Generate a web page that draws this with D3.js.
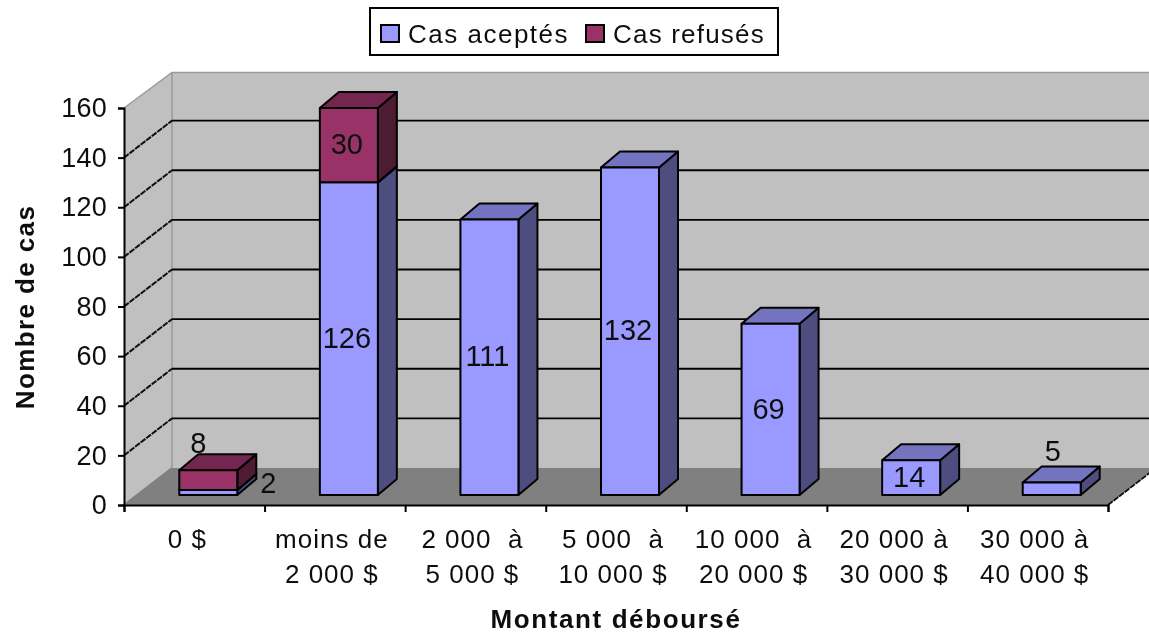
<!DOCTYPE html>
<html>
<head>
<meta charset="utf-8">
<script src="https://cdn.jsdelivr.net/npm/d3@7"></script>
<style>
  html, body { margin: 0; padding: 0; background: #fff; }
  text { font-family: "Liberation Sans", Arial, sans-serif; fill: #111; }
</style>
</head>
<body>
<div id="chart"></div>
<script>
// chart data
var categories = ["0 $", "moins de|2 000 $", "2 000  à|5 000 $", "5 000  à|10 000 $",
                  "10 000  à|20 000 $", "20 000 à|30 000 $", "30 000 à|40 000 $"];
var accepted = [2, 126, 111, 132, 69, 14, 5];
var refused  = [8, 30, 0, 0, 0, 0, 0];
var series_names = ["Cas aceptés", "Cas refusés"];
var y_ticks = [0, 20, 40, 60, 80, 100, 120, 140, 160];

// --------------------------------------------------------

var chart_width  = 1149;
var chart_height = 635;

var svg = d3.select("#chart")
	.append("svg")
	.attr("width", chart_width)
	.attr("height", chart_height)
	.style("display", "block");

// soften everything a little, the reference is an enlarged screenshot
svg.append("filter").attr("id", "soft")
	.append("feGaussianBlur").attr("stdDeviation", 0.7);

var root = svg.append("g").attr("filter", "url(#soft)");

// --------------------------------------------------------
// Scales

const x_scale = d3.scaleBand()
	.domain(d3.range(categories.length))
	.range([124, 1108]);

const y_scale = d3.scaleLinear()
	.domain([0, 160])
	.range([505, 108]);

// 3d offsets: wall is 48 right / 37 up of the axis plane
var wall_dx = 48, wall_dy = -37;
// bars sit part way into the depth
var bar_dx = 14, bar_dy = -10;
var bar_width = 58, depth_dx = 19, depth_dy = -16;

var poly = (pts) => pts.map((p) => p.join(",")).join(" ");

// --------------------------------------------------------
// Walls and floor

var x0 = x_scale.range()[0], x1 = x_scale.range()[1];
var top_y = y_scale(160), zero_y = y_scale(0);
var wall_top = top_y + wall_dy + 1.5;

root.append("polygon")
	.attr("points", poly([[x0, top_y], [x0 + wall_dx, wall_top], [chart_width + 10, wall_top],
		[chart_width + 10, zero_y + wall_dy], [x0 + wall_dx, zero_y + wall_dy], [x0, zero_y]]))
	.attr("fill", "#c0c0c0");

root.append("path")
	.attr("d", `M${x0},${top_y}L${x0 + wall_dx},${wall_top}L${chart_width + 10},${wall_top}`)
	.attr("fill", "none").attr("stroke", "#9a9a9a").attr("stroke-width", 1.5);

root.append("line")
	.attr("x1", x0 + wall_dx).attr("x2", x0 + wall_dx)
	.attr("y1", wall_top).attr("y2", zero_y + wall_dy)
	.attr("stroke", "#9a9a9a").attr("stroke-width", 1.5);

root.append("polygon")
	.attr("points", poly([[x0, zero_y], [x0 + wall_dx, zero_y + wall_dy], [x1 + wall_dx, zero_y + wall_dy], [x1, zero_y]]))
	.attr("fill", "#808080");

// gridlines on the back wall and the side wall
var grid = root.append("g");
y_ticks.filter((d) => d > 0 && d < 160).forEach((d) => {
	grid.append("line")
		.attr("x1", x0 + wall_dx).attr("x2", chart_width + 10)
		.attr("y1", y_scale(d) + wall_dy).attr("y2", y_scale(d) + wall_dy)
		.attr("stroke", "#000").attr("stroke-width", 1.8);
});
y_ticks.filter((d) => d < 160).forEach((d) => {
	grid.append("line")
		.attr("x1", x0).attr("x2", x0 + wall_dx)
		.attr("y1", y_scale(d)).attr("y2", y_scale(d) + wall_dy)
		.attr("stroke", d == 0 ? "#808080" : "#111")
		.attr("stroke-width", 2)
		.attr("stroke-dasharray", d == 0 ? null : "6 1");
});
// right edge of the floor
root.append("line")
	.attr("x1", x1).attr("x2", x1 + wall_dx)
	.attr("y1", zero_y).attr("y2", zero_y + wall_dy)
	.attr("stroke", "#111").attr("stroke-width", 1.8).attr("stroke-dasharray", "6 1");

// --------------------------------------------------------
// Stacked bars

var table = categories.map((c, i) => ({ i: i, accepted: accepted[i], refused: refused[i] }));
var stacked = d3.stack().keys(["accepted", "refused"])(table);

var fills = [
	{ front: "#9999ff", side: "#4d4d80", top: "#7373bf" },
	{ front: "#993366", side: "#4d1a33", top: "#732650" }
];

// label offsets for the bars too small to hold their number
var label_shift = { "0-0": [62, -9], "0-1": [-8, -36], "6-0": [3, -37] };

stacked.forEach((layer, s) => {
	layer.forEach((d) => {
		var value = d[1] - d[0];
		if (value <= 0) return;
		var i = d.data.i;
		var left = x_scale(i) + (x_scale.bandwidth() - bar_width) / 2 + bar_dx;
		var right = left + bar_width;
		var y_top = y_scale(d[1]) + bar_dy;
		var y_bot = y_scale(d[0]) + bar_dy;
		var g = root.append("g")
			.attr("stroke", "#000").attr("stroke-width", 2).attr("stroke-linejoin", "round");
		g.append("polygon")
			.attr("points", poly([[right, y_top], [right + depth_dx, y_top + depth_dy], [right + depth_dx, y_bot + depth_dy], [right, y_bot]]))
			.attr("fill", fills[s].side);
		g.append("polygon")
			.attr("points", poly([[left, y_top], [left + depth_dx, y_top + depth_dy], [right + depth_dx, y_top + depth_dy], [right, y_top]]))
			.attr("fill", fills[s].top);
		g.append("rect")
			.attr("x", left).attr("y", y_top)
			.attr("width", bar_width).attr("height", y_bot - y_top)
			.attr("fill", fills[s].front);
	});
});

// value labels go on top of all the bars
stacked.forEach((layer, s) => {
	layer.forEach((d) => {
		var value = d[1] - d[0];
		if (value <= 0) return;
		var i = d.data.i;
		var shift = label_shift[i + "-" + s] || [0, 0];
		root.append("text")
			.attr("x", x_scale(i) + x_scale.bandwidth() / 2 + bar_dx - 2 + shift[0])
			.attr("y", (y_scale(d[0]) + y_scale(d[1])) / 2 + bar_dy + shift[1] - 1)
			.attr("dy", "0.35em")
			.attr("text-anchor", "middle")
			.attr("font-size", 29)
			.text(value);
	});
});

// --------------------------------------------------------
// Axes

var y_axis = d3.axisLeft(y_scale)
	.tickValues(y_ticks)
	.tickSize(6)
	.tickPadding(11);

var y_g = root.append("g")
	.attr("transform", `translate(${x0},0)`)
	.call(y_axis);
y_g.selectAll("text").attr("font-size", 27).attr("letter-spacing", 0.2).style("font-family", null);
y_g.selectAll("path, line").attr("stroke", "#000").attr("stroke-width", 2);

const x_ticks = d3.scaleLinear().domain([0, categories.length]).range([x0, x1]);
var x_axis = d3.axisBottom(x_ticks)
	.ticks(categories.length)
	.tickSize(7)
	.tickFormat("");

var x_g = root.append("g")
	.attr("transform", `translate(0,${zero_y})`)
	.call(x_axis);
x_g.selectAll("path, line").attr("stroke", "#000").attr("stroke-width", 2);

// category labels, two lines each
categories.forEach((c, i) => {
	c.split("|").forEach((line, n) => {
		root.append("text")
			.attr("x", x_scale(i) + x_scale.bandwidth() / 2 - (i == 0 ? 7 : 3))
			.attr("y", 548 + n * 35)
			.attr("text-anchor", "middle")
			.attr("font-size", 26)
			.attr("letter-spacing", 1)
			.style("white-space", "pre")
			.text(line);
	});
});

root.append("text")
	.attr("x", 616).attr("y", 628)
	.attr("text-anchor", "middle")
	.attr("font-size", 26)
	.attr("font-weight", "bold")
	.attr("letter-spacing", 1.6)
	.text("Montant déboursé");

root.append("text")
	.attr("transform", "translate(34,307) rotate(-90)")
	.attr("text-anchor", "middle")
	.attr("font-size", 26)
	.attr("font-weight", "bold")
	.attr("letter-spacing", 1.4)
	.text("Nombre de cas");

// --------------------------------------------------------
// Legend

var legend = root.append("g");
legend.append("rect")
	.attr("x", 370).attr("y", 8)
	.attr("width", 408).attr("height", 47)
	.attr("fill", "#fff").attr("stroke", "#000").attr("stroke-width", 2);

var legend_x = d3.scaleOrdinal().domain(series_names).range([381, 586]);

series_names.forEach((name, s) => {
	legend.append("rect")
		.attr("x", legend_x(name)).attr("y", 25)
		.attr("width", 18).attr("height", 17)
		.attr("fill", fills[s].front)
		.attr("stroke", "#000").attr("stroke-width", 2);
	legend.append("text")
		.attr("x", legend_x(name) + 27).attr("y", 43)
		.attr("font-size", 26)
		.attr("letter-spacing", s == 0 ? 1.5 : 1.2)
		.text(name);
});
</script>
</body>
</html>
